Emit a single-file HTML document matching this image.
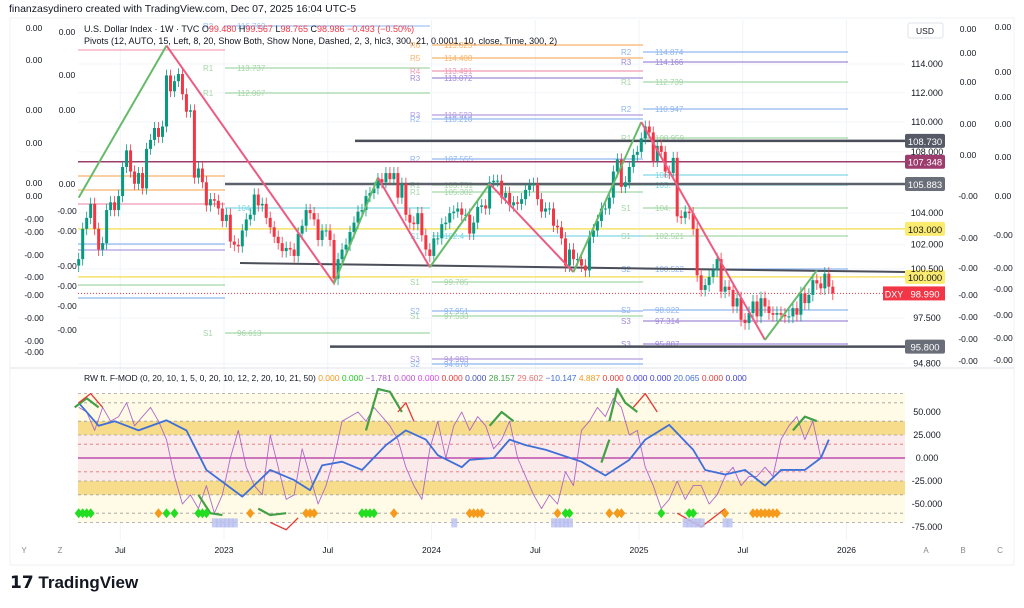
<!DOCTYPE html>
<html><head><meta charset="utf-8"><style>
body{margin:0;background:#fff;width:1024px;height:603px;overflow:hidden;font-family:"Liberation Sans",sans-serif}
svg text{font-family:"Liberation Sans",sans-serif}
</style></head><body>
<svg id="c" width="1024" height="603" xmlns="http://www.w3.org/2000/svg">
<rect x="0" y="0" width="1024" height="603" fill="#fff"/>
<text x="9" y="12" font-size="10.5" fill="#131722">finanzasydinero created with TradingView.com, Dec 07, 2025 16:04 UTC-5</text>
<rect x="10" y="18" width="1004" height="547" fill="#fff" stroke="#eef0f3"/>
<g id="grid"></g><g id="pivots"></g><g id="hl"></g><g id="candles"></g><g id="zig"></g><g id="lower"></g><g id="axes"></g>
<text x="84" y="32" font-size="9" fill="#131722">U.S. Dollar Index · 1W · TVC  O<tspan fill="#f23645">99.480</tspan> H<tspan fill="#f23645">99.567</tspan> L<tspan fill="#f23645">98.765</tspan> C<tspan fill="#f23645">98.986  −0.493 (−0.50%)</tspan></text>
<text x="84" y="44" font-size="9" fill="#131722">Pivots (12, AUTO, 15, Left, 8, 20, Show Both, Show None, Dashed, 2, 3, hlc3, 300, 21, 0.0001, 10, close, Time, 300, 2)</text>
<text x="84" y="381" font-size="8.5" fill="#131722">RW ft. F-MOD (0, 20, 10, 1, 5, 0, 20, 10, 12, 2, 20, 10, 21, 50) <tspan fill="#f59a1b">0.000</tspan> <tspan fill="#22cc22">0.000</tspan> <tspan fill="#a45bc7">−1.781</tspan> <tspan fill="#c04fd0">0.000</tspan> <tspan fill="#e040fb">0.000</tspan> <tspan fill="#e53935">0.000</tspan> <tspan fill="#3f51b5">0.000</tspan> <tspan fill="#43a047">28.157</tspan> <tspan fill="#e57373">29.602</tspan> <tspan fill="#3f6fd8">−10.147</tspan> <tspan fill="#f59a1b">4.887</tspan> <tspan fill="#e53935">0.000</tspan> <tspan fill="#3f3fd8">0.000</tspan> <tspan fill="#3f3fd8">0.000</tspan> <tspan fill="#3f6fd8">20.065</tspan> <tspan fill="#e53935">0.000</tspan> <tspan fill="#3f3fd8">0.000</tspan></text>
<g><text x="10" y="588" font-size="17" font-weight="bold" fill="#131722">𝟭𝟳 TradingView</text></g>
</svg>
<script>
const NS='http://www.w3.org/2000/svg';
function mk(p,t,a,txt){const e=document.createElementNS(NS,t);for(const k in a)e.setAttribute(k,a[k]);if(txt!==undefined)e.textContent=txt;document.getElementById(p).appendChild(e);return e;}
// ---- data ----
const closes=[101.1,103.0,103.7,104.6,103.0,101.7,102.1,104.2,104.7,104.2,105.1,107.0,108.1,106.7,105.9,106.6,105.6,108.2,108.8,109.6,109.0,109.7,113.2,112.1,112.8,113.3,111.9,110.7,110.8,106.3,106.9,106.0,104.5,104.9,104.8,104.3,103.5,
103.9,102.2,102.0,101.9,102.9,103.6,103.9,105.2,104.5,104.6,103.7,103.1,102.5,102.1,101.6,101.8,101.7,101.3,102.7,103.2,104.2,104.0,103.6,102.3,102.9,102.9,102.3,99.9,101.1,101.7,102.0,102.8,103.4,104.1,104.2,105.1,105.3,105.6,106.2,106.0,106.6,106.2,106.6,105.0,105.9,103.9,103.4,103.3,104.0,102.6,101.7,101.3,
102.4,102.4,103.3,103.4,104.0,104.1,104.3,103.9,103.9,102.7,103.4,104.4,104.5,104.3,106.0,106.1,106.1,105.0,105.3,104.5,104.7,104.6,104.9,105.5,105.8,105.9,104.9,104.1,104.3,104.3,103.2,103.1,102.4,100.7,101.7,101.1,101.1,100.7,100.4,102.5,102.9,103.5,104.3,104.3,105.0,106.7,107.5,105.7,106.0,107.0,107.8,108.0,
108.9,109.7,109.3,107.4,108.4,108.0,106.7,106.6,107.6,103.8,103.7,104.1,104.0,103.0,100.1,99.2,99.5,100.0,100.4,101.1,99.1,99.4,99.2,98.2,98.7,97.4,97.2,97.8,98.5,97.6,98.7,98.2,97.8,97.7,97.8,97.7,97.6,97.6,98.1,97.7,99.0,98.4,98.9,99.8,99.6,99.3,100.2,99.4,98.99];
const zigWeeks=[0,22,64,75,88,103,124,141,172,185];
const zigPrices=[105.0,115.3,99.6,106.3,100.6,105.9,100.3,110.0,96.2,100.4];
const priceTicks=[114,112,110,108,104,102,100.5,97.5,94.8];
const hLevels=[108.73,107.348,105.883,103.0,100.0,95.8];
const hLabels=['108.730','107.348','105.883','103.000','100.000','95.800'];
const blueWeeks=[0,5,9,15,22,27,32,41,48,54,58,61,66,71,77,82,87,90,96,98,104,108,112,117,126,132,138,142,148,154,157,162,167,172,176,182,186,188];
const blueVals=[60,35,40,30,41,30,-13,-42,-13,-24,-35,-8,-4,-13,14,30,20,3,-10,-2,0,20,14,9,-4,-19,-2,20,36,9,-13,-18,-13,-30,-13,-13,0,20];
const purpleVals=[55,50,30,55,40,45,60,35,45,55,40,20,-20,-50,-40,-55,-30,-60,-40,0,30,-10,-30,-40,25,-10,-45,-40,10,-20,-50,-30,0,40,45,50,40,55,45,35,20,-10,-30,-45,10,40,0,35,50,30,45,35,10,20,40,0,-20,-40,-55,-40,-50,-15,-30,30,40,55,45,65,55,25,30,-10,-30,-55,-45,-25,-45,-30,-30,-50,-40,-20,-10,-30,-20,-20,-10,-20,20,35,45,20,40,0];
const greenSegW=[[-1,2,5],[45,48,52],[72,75,78,81],[103,106,109],[133,135,137,140],[131,133],[179,182,185],[30,33,36]];
const greenSegV=[[55,65,55],[-55,-62,-60],[30,75,72,50],[35,50,40],[40,75,60,50],[-5,20],[30,45,40],[-40,-60,-62]];
const redSegW=[[0,3,6],[80,82,84],[139,142,145],[150,156,162],[48,52,55]];
const redSegV=[[60,70,55],[50,60,40],[55,70,50],[-60,-75,-55],[-70,-78,-65]];
const greenDiam=[0,1,2,3,22,24,30,31,32,71,72,73,74,122,123,135,146,153,154];
const orangeDiam=[20,43,57,58,59,79,98,99,100,101,120,133,135,136,162,169,170,171,172,173,174,175];
const blueSq=[34,35,36,37,38,39,94,119,120,121,122,123,152,153,154,155,156,162,163];
const timeLabels=['Jul','2023','Jul','2024','Jul','2025','Jul','2026'];
const timeYears=[2022.5,2023,2023.5,2024,2024.5,2025,2025.5,2026];
const oscTicks=[50,25,0,-25,-50,-75];
// ---- scales ----
const X0=78.7,WK=3.99;
const xw=w=>X0+w*WK;
const xy=t=>224+(t-2023)*207.5;
const py=p=>64+(Math.log(114)-Math.log(p))*1625;
const oy=v=>458-v*0.92;
const R=905;
timeYears.forEach(t=>{const g=mk('grid','line',{x1:xy(t),x2:xy(t),y1:20,y2:540,stroke:'#f0f3fa'});});
priceTicks.forEach(p=>{const g=mk('grid','line',{x1:78,x2:R,y1:py(p),y2:py(p),stroke:'#f3f5f9'});});
mk('grid','line',{x1:10,x2:1014,y1:368,y2:368,stroke:'#e0e3eb'});
const piv=[
[78,225,50,'#f7a6b8','',''],[225,430,26,'#9fc3f5','R2','116.762'],[225,430,68,'#a5d6a7','R1','113.737'],[225,430,93,'#a5d6a7','R1','112.007'],
[78,225,176,'#f8b56b','',''],[78,225,190,'#f8b56b','',''],[78,225,204,'#f199b3','',''],[225,430,208,'#7fd8e6','','104.'],[78,225,244,'#8fb6f0','',''],[78,225,250,'#b49be0','',''],[78,225,285,'#a5d6a7','',''],[78,225,298,'#8fb6f0','',''],[225,430,333,'#a5d6a7','S1','96.613'],
[432,643,45,'#f8b56b','R6','115.325'],[432,643,58,'#f8b56b','R5','114.408'],[432,643,71,'#f199b3','R4','113.491'],[432,643,78,'#a08ad8','R3','113.072'],[432,643,115,'#b49be0','R3','110.523'],[432,643,119,'#8fb6f0','R2','110.210'],[432,643,159,'#8fb6f0','R2','107.555'],[432,643,185,'#a5d6a7','R1','105.751'],[432,643,192,'#a5d6a7','R1','105.302'],[432,643,236,'#7fd8e6','S1','102.4'],[432,643,282,'#a5d6a7','S1','99.785'],[432,643,311,'#8fb6f0','S2','97.951'],[432,643,316,'#a5d6a7','S1','97.533'],[432,643,359,'#b49be0','S3','94.983'],[432,643,364,'#8fb6f0','S2','94.670'],
[643,848,52,'#8fb6f0','R2','114.874'],[643,848,62,'#a08ad8','R3','114.166'],[643,848,82,'#a5d6a7','R1','112.739'],[643,848,109,'#8fb6f0','R2','110.947'],[643,848,138,'#a5d6a7','R1','108.959'],[643,848,175,'#7fd8e6','','106.'],[643,848,185,'#7fd8e6','','105.'],[643,848,208,'#a5d6a7','S1','104.'],[643,848,236,'#a5d6a7','S1','102.521'],[643,848,269,'#8fb6f0','S2','100.522'],[643,848,310,'#8fb6f0','S2','98.022'],[643,848,321,'#a08ad8','S3','97.314'],[643,848,344,'#a08ad8','S3','95.887']];
piv.forEach(p=>{const l=mk('pivots','line',{x1:p[0],x2:p[1],y1:p[2],y2:p[2],stroke:p[3],'stroke-width':1.2});
if(p[4]){const t=mk('pivots','text',{x:p[0]-22,y:p[2]+3,'font-size':8,fill:p[3]},p[4]);}
if(p[5]){const t=mk('pivots','text',{x:p[0]+12,y:p[2]+3,'font-size':8,fill:p[3]},p[5]);}});
const hStyle=[[355,'#4a4e59',2.5,'#555a66'],[78,'#9c3d6e',1.5,'#9c3d6e'],[225,'#5d616b',2.5,'#6a6e78'],[78,'#f5e26a',1.5,'#fbeb6f'],[78,'#f5e26a',1.5,'#fbeb6f'],[330,'#4a4e59',2.5,'#6a6e78']];
hLevels.forEach((v,i)=>{const s=hStyle[i];const l=mk('hl','line',{x1:s[0],x2:R,y1:py(v),y2:py(v),stroke:s[1],'stroke-width':s[2]});
const r=mk('hl','rect',{x:R,y:py(v)-7,width:40,height:14,fill:s[3],rx:2});
const t=mk('hl','text',{x:R+20,y:py(v)+4,'font-size':9.5,'text-anchor':'middle',fill:(i>=3&&i<=4)?'#131722':'#fff'},hLabels[i]);});
const tl=mk('hl','line',{x1:240,x2:R,y1:263,y2:272,stroke:'#4a4e59','stroke-width':2});
const last=closes[closes.length-1];
const dl=mk('hl','line',{x1:78,x2:R,y1:py(last),y2:py(last),stroke:'#f23645','stroke-dasharray':'1,2'});
closes.forEach((c,i)=>{const o=i?closes[i-1]:c-0.4;const up=c>=o;const col=up?'#089981':'#f23645';const x=xw(i);
const hi=Math.max(o,c)+0.4,lo=Math.min(o,c)-0.4;
const w=mk('candles','line',{x1:x,x2:x,y1:py(hi),y2:py(lo),stroke:col,'stroke-width':0.8});
const b=mk('candles','rect',{x:x-1.5,y:py(Math.max(o,c)),width:3,height:Math.max(1,py(Math.min(o,c))-py(Math.max(o,c))),fill:col});});
for(let i=0;i<zigWeeks.length-1;i++){const up=zigPrices[i+1]>zigPrices[i];const l=mk('zig','line',{x1:xw(zigWeeks[i]),y1:py(zigPrices[i]),x2:xw(zigWeeks[i+1]),y2:py(zigPrices[i+1]),stroke:up?'#66bb6a':'#ec5c82','stroke-width':2});}
priceTicks.forEach(p=>{const t=mk('axes','text',{x:927,y:py(p)+3,'font-size':9,'text-anchor':'middle',fill:'#131722'},p.toFixed(3));});
{const r=mk('axes','rect',{x:908,y:23,width:35,height:15,fill:'#fff',stroke:'#e0e3eb',rx:2});
mk('axes','text',{x:925,y:34,'font-size':8.5,'text-anchor':'middle',fill:'#131722'},'USD');}
{const r=mk('axes','rect',{x:883,y:py(last)-7,width:22,height:14,fill:'#f23645'});
mk('axes','text',{x:894,y:py(last)+4,'font-size':9,'text-anchor':'middle',fill:'#fff'},'DXY');
const r2=mk('axes','rect',{x:R,y:py(last)-7,width:40,height:14,fill:'#f23645'});
mk('axes','text',{x:R+20,y:py(last)+4,'font-size':9.5,'text-anchor':'middle',fill:'#fff'},last.toFixed(3));}
const colC=[[29,'0.00'],[53,'0.00'],[82,'0.00'],[124,'0.00'],[155,'0.00'],[196,'-0.00'],[238,'-0.00'],[268,'-0.00'],[295,'-0.00'],[317,'-0.00'],[339,'-0.00'],[361,'-0.00']];
const colD=[[27,'0.00'],[72,'0.00'],[97,'0.00'],[124,'0.00'],[157,'0.00'],[196,'0.00'],[235,'-0.00'],[268,'-0.00'],[289,'-0.00'],[315,'-0.00'],[338,'-0.00'],[360,'-0.00']];
const colA=[[28,'0.00'],[60,'0.00'],[110,'0.00'],[143,'0.00'],[183,'0.00'],[196,'0.00'],[219,'-0.00'],[232,'-0.00'],[255,'-0.00'],[277,'-0.00'],[295,'-0.00'],[318,'-0.00'],[341,'-0.00'],[352,'-0.00']];
const colB=[[32,'0.00'],[75,'0.00'],[110,'0.00'],[184,'0.00'],[211,'-0.00'],[231,'-0.00'],[266,'-0.00'],[286,'-0.00'],[306,'-0.00'],[330,'-0.00']];
[[colC,968],[colD,1003],[colA,34],[colB,67]].forEach(([col,x])=>col.forEach(([y,s])=>{const t=mk('axes','text',{x:x,y:y+3,'font-size':8.5,'text-anchor':'middle',fill:'#131722'},s);}));
const L=78;
[[70,-70,'#fffbe6'],[40,25,'#f7dc8c'],[-25,-40,'#f7dc8c'],[25,-25,'#fbeaea']].forEach(b=>{const r=mk('lower','rect',{x:L,y:oy(b[0]),width:R-L,height:oy(b[1])-oy(b[0]),fill:b[2]});});
[[70,'#9e9e9e'],[60,'#9e9e9e'],[40,'#9e9e9e'],[25,'#9e9e9e'],[15,'#e57373'],[-15,'#e57373'],[-25,'#9e9e9e'],[-40,'#9e9e9e'],[-60,'#9e9e9e'],[-70,'#9e9e9e']].forEach(d=>{const l=mk('lower','line',{x1:L,x2:R,y1:oy(d[0]),y2:oy(d[0]),stroke:d[1],'stroke-dasharray':'3,3','stroke-width':0.8});});
{const l=mk('lower','line',{x1:L,x2:R,y1:oy(0),y2:oy(0),stroke:'#b02fa0','stroke-width':1.2});}
const poly=(pts,col,w,name,op)=>{const e=mk('lower','polyline',{points:pts.join(' '),fill:'none',stroke:col,'stroke-width':w,'stroke-linejoin':'round',opacity:op||1});};
poly(purpleVals.map((v,i)=>xw(i*2)+','+oy(v)),'#a45bc7',0.9,'osc-purple-line',0.9);
poly(blueVals.map((v,i)=>xw(blueWeeks[i])+','+oy(v)),'#3f6fd8',1.8,'osc-blue-line');
greenSegW.forEach((s,k)=>poly(s.map((w,i)=>xw(w)+','+oy(greenSegV[k][i])),'#43a047',2.2,'osc-green-segment'));
redSegW.forEach((s,k)=>poly(s.map((w,i)=>xw(w)+','+oy(redSegV[k][i])),'#e53935',1.3,'osc-red-segment'));
const diam=(w,v,col,name)=>{const x=xw(w),y=oy(v);const e=mk('lower','polygon',{points:`${x},${y-5} ${x+4},${y} ${x},${y+5} ${x-4},${y}`,fill:col});};
greenDiam.forEach(w=>diam(w,-60,'#22dd22','green-diamond'));
orangeDiam.forEach(w=>diam(w,-60,'#f59a1b','orange-diamond'));
blueSq.forEach(w=>{const e=mk('lower','rect',{x:xw(w)-2.5,y:oy(-70)-4,width:6,height:9,fill:'#b8bff0',opacity:0.8});});
oscTicks.forEach(v=>{const t=mk('axes','text',{x:927,y:oy(v)+3,'font-size':9,'text-anchor':'middle',fill:'#131722'},v.toFixed(3));});
timeYears.forEach((t,i)=>{const e=mk('axes','text',{x:xy(t),y:553,'font-size':8.5,'text-anchor':'middle',fill:'#131722'},timeLabels[i]);});
[['Y',24],['Z',60],['A',926],['B',963],['C',1000]].forEach(([s,x])=>{const e=mk('axes','text',{x:x,y:553,'font-size':8,'text-anchor':'middle',fill:'#888'},s);});
</script>
</body></html>
